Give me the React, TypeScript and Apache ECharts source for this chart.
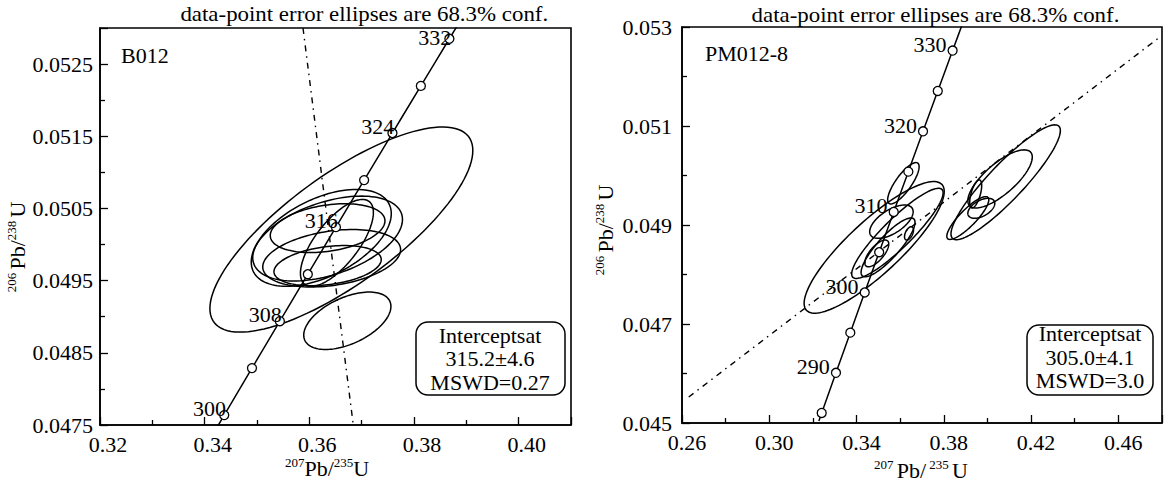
import React, { useEffect, useRef } from "react";
import * as echarts from "echarts";

// Concordia curve points (age in Ma, 207Pb/235U, 206Pb/238U)
const concordiaAges = [284, 285, 290, 295, 298, 300, 304, 305, 308, 310, 312, 315, 316, 320, 324, 325, 328, 330, 332, 334];
const concordiaX = [0.32273, 0.32403, 0.33057, 0.33714, 0.34109, 0.34374, 0.34904, 0.35037, 0.35437, 0.35704, 0.35971, 0.36374, 0.36508, 0.37047, 0.37588, 0.37723, 0.38131, 0.38403, 0.38676, 0.38949];
const concordiaY = [0.04504, 0.045203, 0.046014, 0.046825, 0.047312, 0.047637, 0.048288, 0.04845, 0.048938, 0.049264, 0.049589, 0.050078, 0.050241, 0.050893, 0.051545, 0.051708, 0.052198, 0.052524, 0.052851, 0.053178];

const leftMarkerAges = [300, 304, 308, 312, 316, 320, 324, 328, 332];
const leftLabelAges = [300, 308, 316, 324, 332];
const rightMarkerAges = [285, 290, 295, 300, 305, 310, 315, 320, 325, 330];
const rightLabelAges = [290, 300, 310, 320, 330];

// error ellipses: [x, y, sx, sy, rho]
const leftEllipses = [
  [0.36612, 0.050208, 0.02512, 0.001421, 0.77],
  [0.36726, 0.048944, 0.00833, 0.000398, 0.5],
  [0.36228, 0.050093, 0.01338, 0.000671, 0.5],
  [0.36349, 0.050083, 0.01431, 0.000588, 0.45],
  [0.36349, 0.050227, 0.01096, 0.000338, 0.3],
  [0.36427, 0.04981, 0.01317, 0.000398, 0.3],
  [0.36349, 0.049708, 0.01025, 0.000278, 0.3],
  [0.36527, 0.050023, 0.00697, 0.000602, 0.7],
];
const rightEllipses = [
  [0.34808, 0.048548, 0.03211, 0.001329, 0.85],
  [0.36147, 0.049843, 0.00721, 0.000418, 0.8],
  [0.35598, 0.049067, 0.00996, 0.000337, 0.6],
  [0.35873, 0.048831, 0.02095, 0.000911, 0.9],
  [0.35444, 0.048548, 0.01236, 0.000594, 0.85],
  [0.34928, 0.048426, 0.00549, 0.00027, 0.7],
  [0.36405, 0.048831, 0.00206, 0.000135, 0.5],
  [0.40835, 0.049863, 0.02507, 0.00116, 0.9],
  [0.40578, 0.049931, 0.01477, 0.000587, 0.75],
  [0.39719, 0.049337, 0.00618, 0.000202, 0.5],
  [0.39461, 0.049627, 0.00275, 0.000283, 0.6],
  [0.391, 0.049141, 0.00962, 0.000432, 0.85],
];

const leftDiscordia = [[0.35879, 0.053], [0.3684, 0.0475]];
const rightDiscordia = [[0.26309, 0.045526], [0.47943, 0.052811]];

const leftTexts = { sample: "B012", age: "315.2±4.6", mswd: "MSWD=0.27" };
const rightTexts = { sample: "PM012-8", age: "305.0±4.1", mswd: "MSWD=3.0" };
const titleText = "data-point error ellipses are 68.3% conf.";

const FONT = "'Liberation Serif', 'DejaVu Serif', serif";

function ellipseRender(params: any, api: any) {
  const cx = api.value(0), cy = api.value(1), sx = api.value(2), sy = api.value(3), r = api.value(4);
  const k = Math.sqrt(1 - r * r);
  const pts: number[][] = [];
  const n = 120;
  for (let i = 0; i < n; i++) {
    const t = (i / n) * Math.PI * 2;
    pts.push(api.coord([cx + sx * Math.cos(t), cy + sy * (r * Math.cos(t) + k * Math.sin(t))]));
  }
  return { type: "polygon", shape: { points: pts }, style: { fill: "none", stroke: "#000", lineWidth: 1.5 } };
}

function axis(gridIndex: number, min: number, max: number, interval: number, digits: number, showMax: boolean, margin: number, padLeft: number) {
  return {
    type: "value",
    gridIndex,
    min,
    max,
    interval,
    axisLine: { show: true, lineStyle: { color: "#000", width: 1.6 } },
    axisTick: { show: true, inside: true, length: 8, lineStyle: { color: "#000", width: 1.3 } },
    minorTick: { show: true, splitNumber: 2, length: 5, lineStyle: { color: "#000", width: 1.3 } },
    splitLine: { show: false },
    minorSplitLine: { show: false },
    axisLabel: {
      color: "#000",
      fontFamily: FONT,
      fontSize: 22,
      margin,
      showMaxLabel: showMax,
      showMinLabel: true,
      padding: [0, 0, 0, padLeft],
      formatter: (v: number) => v.toFixed(digits),
    },
  };
}

function concordiaSeries(axisIdx: number) {
  return {
    type: "line",
    xAxisIndex: axisIdx,
    yAxisIndex: axisIdx,
    data: concordiaAges.map((_, i) => [concordiaX[i], concordiaY[i]]),
    symbol: "none",
    lineStyle: { color: "#000", width: 1.5 },
    clip: true,
    silent: true,
    z: 3,
  };
}

function markerSeries(axisIdx: number, ages: number[], labelAges: number[], offset: number[]) {
  return {
    type: "scatter",
    xAxisIndex: axisIdx,
    yAxisIndex: axisIdx,
    symbol: "circle",
    symbolSize: 9,
    itemStyle: { color: "#fff", borderColor: "#000", borderWidth: 1.3, opacity: 1 },
    data: ages.map((a) => {
      const i = concordiaAges.indexOf(a);
      const show = labelAges.includes(a);
      const off = a === 332 && axisIdx === 0 ? [offset[0], -1] : offset;
      return {
        name: String(a),
        value: [concordiaX[i], concordiaY[i]],
        label: {
          show,
          position: "left",
          distance: 0,
          offset: off,
          formatter: "{b}",
          color: "#000",
          opacity: 1,
          fontFamily: FONT,
          fontSize: 22,
          textBorderWidth: 0,
        },
      };
    }),
    silent: true,
    z: 6,
  };
}

function ellipseSeries(axisIdx: number, data: number[][]) {
  return {
    type: "custom",
    xAxisIndex: axisIdx,
    yAxisIndex: axisIdx,
    renderItem: ellipseRender,
    dimensions: ["x", "y", "sx", "sy", "rho"],
    encode: { x: 0, y: 1 },
    data,
    clip: true,
    silent: true,
    z: 4,
  };
}

function discordiaSeries(axisIdx: number, data: number[][]) {
  return {
    type: "line",
    xAxisIndex: axisIdx,
    yAxisIndex: axisIdx,
    data,
    symbol: "none",
    lineStyle: { color: "#000", width: 1.4, type: [6, 5, 1.5, 5] },
    clip: true,
    silent: true,
    z: 2,
  };
}

function txt(text: string, x: number, y: number, align: string, extra: any = {}) {
  return {
    type: "text",
    x,
    y,
    z: 10,
    ...extra,
    style: {
      text,
      fill: "#000",
      fontFamily: FONT,
      fontSize: 22,
      align,
      textAlign: align,
      verticalAlign: "middle",
      textVerticalAlign: "middle",
      rich: {
        s: { fontSize: 13, fontFamily: FONT, verticalAlign: "top", fill: "#000", lineHeight: 24 },
        m: { fontSize: 22, fontFamily: FONT, fill: "#000", lineHeight: 24 },
      },
    },
  };
}

function box(x: number, y: number, w: number, h: number) {
  return {
    type: "rect",
    z: 9,
    shape: { x, y, width: w, height: h, r: 12 },
    style: { fill: "#fff", stroke: "#000", lineWidth: 1.5 },
  };
}

export default function App() {
  const ref = useRef<HTMLDivElement>(null);
  useEffect(() => {
    if (!ref.current) return;
    const chart = echarts.init(ref.current, undefined, { renderer: "svg" });
    const option: any = {
      animation: false,
      backgroundColor: "#fff",
      grid: [
        { left: 100, top: 28, width: 471, height: 397, show: true, borderColor: "#000", borderWidth: 1.6, containLabel: false },
        { left: 682, top: 27, width: 480, height: 396, show: true, borderColor: "#000", borderWidth: 1.6, containLabel: false },
      ],
      xAxis: [
        axis(0, 0.32, 0.41, 0.02, 2, false, 8, 16),
        axis(1, 0.26, 0.48, 0.04, 2, false, 8, 10),
      ],
      yAxis: [
        axis(0, 0.0475, 0.053, 0.001, 4, false, 7, 0),
        axis(1, 0.045, 0.053, 0.002, 3, true, 10, 0),
      ],
      series: [
        discordiaSeries(0, leftDiscordia),
        concordiaSeries(0),
        ellipseSeries(0, leftEllipses),
        markerSeries(0, leftMarkerAges, leftLabelAges, [7, -7]),
        discordiaSeries(1, rightDiscordia),
        concordiaSeries(1),
        ellipseSeries(1, rightEllipses),
        markerSeries(1, rightMarkerAges, rightLabelAges, [-1, -6]),
      ],
      graphic: [
        txt(titleText, 571, 14, "right", { scaleX: 1.04, originX: 571 }),
        txt(titleText, 1166, 15, "right", { scaleX: 1.04, originX: 1166 }),
        txt(leftTexts.sample, 121, 55, "left"),
        txt(rightTexts.sample, 705, 53, "left"),
        box(416, 322, 149, 73),
        txt("Interceptsat", 490, 335, "center"),
        txt(leftTexts.age, 490, 358, "center"),
        txt(leftTexts.mswd, 490, 382, "center"),
        box(1027, 325, 126, 70),
        txt("Interceptsat", 1090, 333, "center"),
        txt(rightTexts.age, 1090, 357, "center"),
        txt(rightTexts.mswd, 1090, 380, "center"),
        txt("{s|207}{m|Pb/}{s|235}{m|U}", 327, 468, "center"),
        txt("{s|206 }{m|Pb/}{s|238 }{m|U}", 17, 247, "center", { rotation: Math.PI / 2 }),
        txt("{s|207 }{m|Pb/}{s| 235 }{m|U}", 921, 470, "center"),
        txt("{s|206 }{m|Pb/}{s|238 }{m|U}", 605, 230, "center", { rotation: Math.PI / 2 }),
      ],
    };
    chart.setOption(option);
    return () => chart.dispose();
  }, []);
  return (
    <div
      ref={ref}
      style={{ position: "fixed", left: 0, top: 0, width: 1173, height: 482, background: "#fff" }}
    />
  );
}
